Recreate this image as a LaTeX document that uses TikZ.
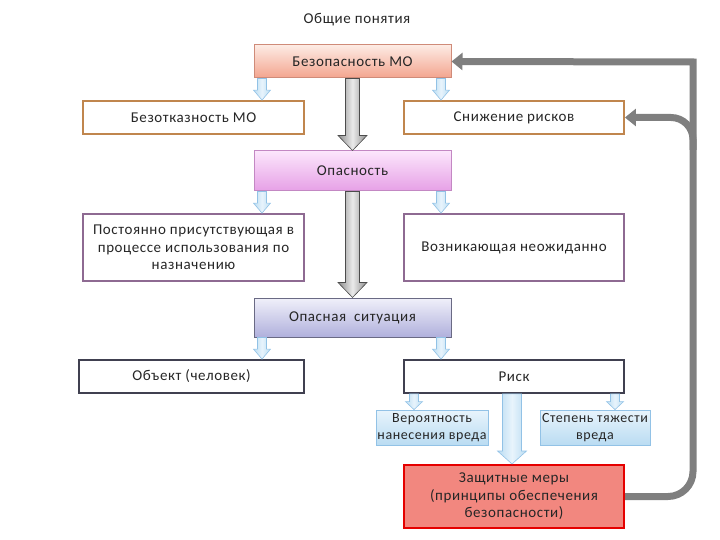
\documentclass[tikz,border=0pt]{standalone}
\usepackage{fontspec}
\setmainfont[LetterSpace=4]{Carlito}
\usetikzlibrary{calc}
\usetikzlibrary{arrows.meta}

\definecolor{brownline}{HTML}{C0864E}
\definecolor{purpline}{HTML}{8E6A92}
\definecolor{darkline}{HTML}{404050}
\definecolor{fbgray}{HTML}{7F7F7F}
\definecolor{pinklight}{HTML}{FDEBE4}
\definecolor{pinkdark}{HTML}{F3A48E}
\definecolor{violight}{HTML}{FCE6FC}
\definecolor{viodark}{HTML}{E6A0E6}
\definecolor{lavlight}{HTML}{F0F0FA}
\definecolor{lavdark}{HTML}{B0B0DC}
\definecolor{bluelight}{HTML}{E8F4FC}
\definecolor{bluedark}{HTML}{BADCF2}
\definecolor{blueline}{HTML}{92C2E6}
\definecolor{redfill}{HTML}{F2877F}

\newcommand\blockarrow[6]{\path[#1] let \p1=(#2), \p2=(#3) in (\x1-#4,\y1) -- (\x1+#4,\y1) -- (\x1+#4,\y2+#6) -- (\x1+#5,\y2+#6) -- (\x1,\y2) -- (\x1-#5,\y2+#6) -- (\x1-#4,\y2+#6) -- cycle;}

\begin{document}
\begin{tikzpicture}[x=1pt, y=-1pt,
  txt/.style={font=\fontsize{15}{17.5}\selectfont, align=center, text=black!85},
  box/.style={txt, draw, line width=1.8pt, minimum width=220pt, minimum height=33pt, inner sep=2pt},
  mainbox/.style={txt, draw, line width=1pt, minimum width=197pt, inner sep=2pt},
  smallbox/.style={txt, font=\fontsize{14}{17.5}\selectfont, draw=blueline, line width=0.8pt, top color=bluelight, bottom color=bluedark, minimum height=35pt, inner sep=0.5pt},
  greyarr/.style={draw=black!70, line width=0.6pt, left color=black!45, right color=black!45, middle color=black!8},
  bluearr/.style={draw=blueline, line width=0.6pt, left color=bluedark, right color=bluedark, middle color=bluelight},
  feedback/.style={draw=fbgray, line width=7pt, -{Triangle[width=17pt,length=11pt]}}]

\useasboundingbox (0,0) rectangle (720,540);

\node[txt] (tt) at (357,20) {Общие понятия};

\node[mainbox, draw=pinkdark!85!black, top color=pinklight, bottom color=pinkdark, minimum height=33pt] (b1) at (352.5,61.5) {Безопасность МО};
\node[box, draw=brownline, minimum width=221pt] (bo) at (193.5,117.5) {Безотказность МО};
\node[box, draw=brownline] (sr) at (514,117.5) {Снижение рисков};

\node[mainbox, draw=viodark!85!black, top color=violight, bottom color=viodark, minimum height=40pt] (op) at (352.5,171) {Опасность};
\node[box, draw=purpline, minimum width=221pt, minimum height=67pt] (pp) at (193.5,247.5) {Постоянно присутствующая в\\процессе использования по\\назначению};
\node[box, draw=purpline, minimum height=67pt] (vn) at (514,247.5) {Возникающая неожиданно};

\node[mainbox, draw=lavdark!60!black, top color=lavlight, bottom color=lavdark, minimum height=39pt] (os) at (352.5,317.5) {Опасная~ ситуация};
\node[box, draw=darkline, minimum width=225pt] (ob) at (191.5,376.5) {Объект (человек)};
\node[box, draw=darkline] (rk) at (514,376.5) {Риск};

\node[smallbox, minimum width=112pt] (vr) at (432,427.5) {Вероятность\\нанесения вреда};
\node[smallbox, minimum width=110pt] (st) at (595,427.5) {Степень тяжести\\вреда};

\node[box, draw=red!90!black, line width=2pt, fill=redfill, minimum height=63pt] (zm) at (514,496.5) {Защитные меры\\(принципы обеспечения\\безопасности)};

\blockarrow{greyarr}{b1.south}{op.north}{7pt}{14.5pt}{15pt}
\blockarrow{greyarr}{op.south}{os.north}{7pt}{14.5pt}{15pt}
\blockarrow{bluearr}{rk.south -| 512,0}{zm.north}{9.5pt}{14.5pt}{13pt}

\blockarrow{bluearr}{b1.south -| 262,0}{bo.north -| 262,0}{4.5pt}{8.5pt}{10pt}
\blockarrow{bluearr}{b1.south -| 441,0}{sr.north -| 441,0}{4.5pt}{8.5pt}{10pt}
\blockarrow{bluearr}{op.south -| 262,0}{pp.north -| 262,0}{4.5pt}{8.5pt}{10pt}
\blockarrow{bluearr}{op.south -| 441,0}{vn.north -| 441,0}{4.5pt}{8.5pt}{10pt}
\blockarrow{bluearr}{os.south -| 262,0}{ob.north -| 262,0}{4.5pt}{8.5pt}{10pt}
\blockarrow{bluearr}{os.south -| 441,0}{rk.north -| 441,0}{4.5pt}{8.5pt}{10pt}
\blockarrow{bluearr}{rk.south -| 414,0}{vr.north -| 414,0}{4.5pt}{8.5pt}{8pt}
\blockarrow{bluearr}{rk.south -| 615,0}{st.north -| 615,0}{4.5pt}{8.5pt}{8pt}

\coordinate (fbtop) at (693,62);
\coordinate (fbjoin) at (693,150);
\draw[feedback] (zm.east) [rounded corners=25pt] -| (fbjoin) [sharp corners] -- (fbtop) -- (b1.east);
\draw[feedback, rounded corners=22pt] (fbjoin) |- (sr.east);
\end{tikzpicture}
\end{document}
